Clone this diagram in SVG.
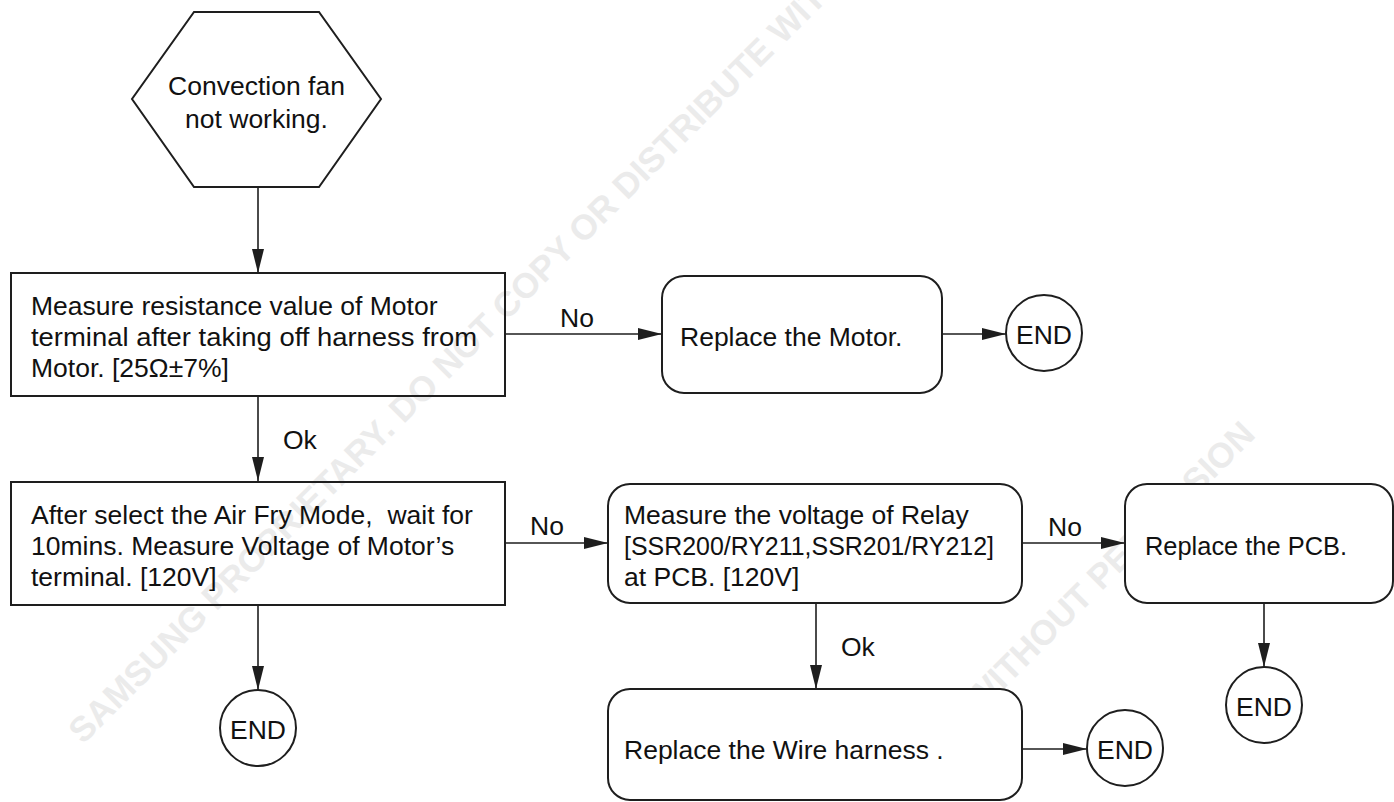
<svg xmlns="http://www.w3.org/2000/svg" width="1394" height="802" viewBox="0 0 1394 802">
<style>
  .shape { fill: none; stroke: #1e1e1e; stroke-width: 2; }
  .box { fill: #ffffff; stroke: #1e1e1e; stroke-width: 2; }
  .conn { fill: none; stroke: #1e1e1e; stroke-width: 1.6; }
  .t { font-family: "Liberation Sans", Arial, sans-serif; font-size: 26.5px; fill: #111; }
  .c { text-anchor: middle; }
  .wm { font-family: "Liberation Sans", Arial, sans-serif; font-size: 35px; font-weight: bold; fill: #ebebeb; }
</style>
<defs>
  <marker id="arrow" markerUnits="userSpaceOnUse" markerWidth="24" markerHeight="12" refX="24" refY="6" orient="auto">
    <path d="M0,0 L24,6 L0,12 Z" fill="#1e1e1e"/>
  </marker>
</defs>
<rect x="0" y="0" width="1394" height="802" fill="#ffffff"/>
<g id="watermark">
  <text class="wm" transform="translate(83,745) rotate(-45)">SAMSUNG PROPRIETARY. DO NOT COPY OR DISTRIBUTE WITHOUT PERMISSION</text>
  <text class="wm" text-anchor="end" transform="translate(1257,436) rotate(-45)">WITHOUT PERMISSION</text>
</g>
<g id="connectors">
  <path class="conn" d="M258,187 V273" marker-end="url(#arrow)"/>
  <path class="conn" d="M505,334 H662" marker-end="url(#arrow)"/>
  <path class="conn" d="M942,334 H1006" marker-end="url(#arrow)"/>
  <path class="conn" d="M258,396 V481" marker-end="url(#arrow)"/>
  <path class="conn" d="M258,605 V690" marker-end="url(#arrow)"/>
  <path class="conn" d="M505,543 H608" marker-end="url(#arrow)"/>
  <path class="conn" d="M1022,543 H1125" marker-end="url(#arrow)"/>
  <path class="conn" d="M816,603 V689" marker-end="url(#arrow)"/>
  <path class="conn" d="M1022,749 H1087" marker-end="url(#arrow)"/>
  <path class="conn" d="M1264,603 V667" marker-end="url(#arrow)"/>
  <text class="t" x="560" y="327">No</text>
  <text class="t" x="283" y="449">Ok</text>
  <text class="t" x="530" y="535">No</text>
  <text class="t" x="1048" y="536">No</text>
  <text class="t" x="841" y="656">Ok</text>
</g>
<g id="start">
  <polygon class="shape" points="194,12 319,12 381,99 319,187 194,187 132,99"/>
  <text class="t c" x="256.5" y="95">Convection fan</text>
  <text class="t c" x="256.5" y="128">not working.</text>
</g>
<g id="measure-resistance">
  <rect class="shape" x="11" y="273" width="494" height="123"/>
  <text class="t" x="31" y="315">Measure resistance value of Motor</text>
  <text class="t" x="31" y="346" textLength="446" lengthAdjust="spacingAndGlyphs">terminal after taking off harness from</text>
  <text class="t" x="31" y="377">Motor. [25Ω±7%]</text>
</g>
<g id="replace-motor">
  <rect class="box" x="662" y="276" width="280" height="117" rx="22" ry="22"/>
  <text class="t" x="680" y="346">Replace the Motor.</text>
</g>
<g id="end-1">
  <circle class="box" cx="1044" cy="333" r="38"/>
  <text class="t c" x="1044" y="343.5">END</text>
</g>
<g id="measure-voltage">
  <rect class="shape" x="11" y="482" width="494" height="123"/>
  <text class="t" x="31" y="524" xml:space="preserve">After select the Air Fry Mode,  wait for</text>
  <text class="t" x="31" y="555">10mins. Measure Voltage of Motor’s</text>
  <text class="t" x="31" y="586">terminal. [120V]</text>
</g>
<g id="end-2">
  <circle class="box" cx="258" cy="728" r="38"/>
  <text class="t c" x="258" y="738.5">END</text>
</g>
<g id="measure-relay">
  <rect class="box" x="608" y="484" width="414" height="119" rx="22" ry="22"/>
  <text class="t" x="624" y="524">Measure the voltage of Relay</text>
  <text class="t" x="624" y="555" textLength="370" lengthAdjust="spacingAndGlyphs">[SSR200/RY211,SSR201/RY212]</text>
  <text class="t" x="624" y="586">at PCB. [120V]</text>
</g>
<g id="replace-pcb">
  <rect class="box" x="1125" y="484" width="268" height="119" rx="22" ry="22"/>
  <text class="t" x="1145" y="555" textLength="202" lengthAdjust="spacingAndGlyphs">Replace the PCB.</text>
</g>
<g id="end-3">
  <circle class="box" cx="1264" cy="705" r="38"/>
  <text class="t c" x="1264" y="715.5">END</text>
</g>
<g id="replace-wire">
  <rect class="box" x="608" y="689" width="414" height="111" rx="22" ry="22"/>
  <text class="t" x="624" y="759">Replace the Wire harness .</text>
</g>
<g id="end-4">
  <circle class="box" cx="1125" cy="748" r="38"/>
  <text class="t c" x="1125" y="758.5">END</text>
</g>
</svg>
